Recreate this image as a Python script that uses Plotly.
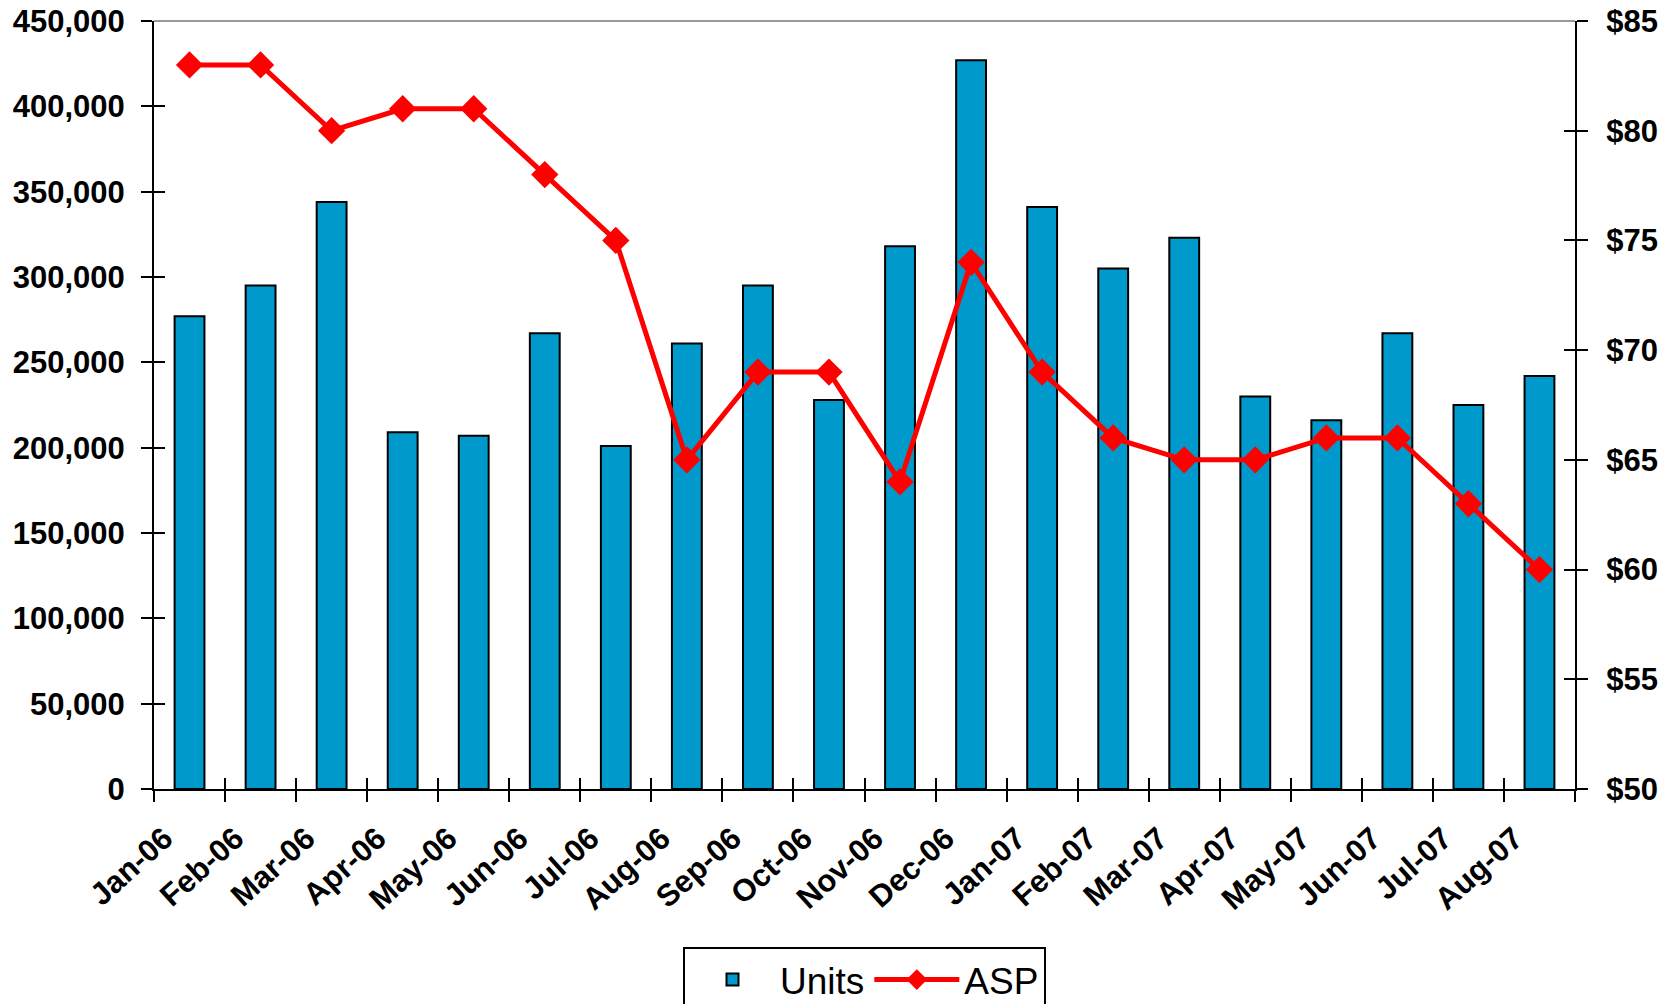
import plotly.graph_objects as go

months = ["Jan-06", "Feb-06", "Mar-06", "Apr-06", "May-06", "Jun-06", "Jul-06",
          "Aug-06", "Sep-06", "Oct-06", "Nov-06", "Dec-06", "Jan-07", "Feb-07",
          "Mar-07", "Apr-07", "May-07", "Jun-07", "Jul-07", "Aug-07"]
units = [277000, 295000, 344000, 209000, 207000, 267000, 201000, 261000, 295000, 228000,
         318000, 427000, 341000, 305000, 323000, 230000, 216000, 267000, 225000, 242000]
asp = [83, 83, 80, 81, 81, 78, 75, 65, 69, 69, 64, 74, 69, 66, 65, 65, 66, 66, 63, 60]

units_ticks = list(range(0, 450001, 50000))
units_ticktext = ["0" if v == 0 else f"{v:,}" for v in units_ticks]
asp_ticks = list(range(50, 86, 5))
asp_ticktext = [f"${v}" for v in asp_ticks]

FONT = "Liberation Sans, Arial, sans-serif"
tickfont = dict(family=FONT, size=31, color="black", weight="bold")
n = len(months)
xrange = [-0.5, n - 0.5]

fig = go.Figure()
fig.add_trace(go.Bar(
    x=months, y=units, name="Units",
    marker=dict(color="#0099CC", line=dict(color="black", width=2)),
    xaxis="x", yaxis="y",
))
fig.add_trace(go.Scatter(
    x=months, y=asp, name="ASP", mode="lines+markers",
    line=dict(color="#FF0000", width=5),
    marker=dict(symbol="diamond", size=21, color="#FF0000"),
    xaxis="x", yaxis="y2",
))
# invisible helper traces so the inner-tick overlay axes get drawn
fig.add_trace(go.Scatter(
    x=months, y=units, mode="markers", marker=dict(opacity=0),
    showlegend=False, hoverinfo="skip", xaxis="x2", yaxis="y3",
))
fig.add_trace(go.Scatter(
    x=months, y=asp, mode="markers", marker=dict(opacity=0),
    showlegend=False, hoverinfo="skip", xaxis="x", yaxis="y4",
))

common_tick = dict(ticklen=11, tickwidth=2, tickcolor="black", showgrid=False,
                   zeroline=False, automargin=False)

fig.update_layout(
    width=1667, height=1004,
    margin=dict(l=154, r=92, t=21, b=215, autoexpand=False),
    paper_bgcolor="white", plot_bgcolor="white",
    bargap=0.58,
    showlegend=True,
    legend=dict(
        orientation="h", x=0.5, xanchor="center", y=-0.2057, yanchor="top",
        bordercolor="black", borderwidth=2,
        font=dict(family=FONT, size=37, color="black"),
        itemwidth=85, tracegroupgap=0,
    ),
    xaxis=dict(
        type="category", range=xrange, tickson="boundaries", ticks="outside",
        tickangle=-42, showline=True, linecolor="black", linewidth=2,
        tickfont=tickfont, ticklabelstandoff=17, ticklabelshift=-25,
        ticklabeloverflow="allow", **common_tick,
    ),
    xaxis2=dict(
        type="category", range=xrange, tickson="boundaries", overlaying="x",
        anchor="y", side="bottom", ticks="inside", showticklabels=False,
        showline=False, **common_tick,
    ),
    yaxis=dict(
        range=[0, 450000], tickvals=units_ticks, ticktext=units_ticktext,
        ticks="outside", showline=True, linecolor="black", linewidth=2,
        tickfont=tickfont, ticklabelstandoff=10, ticklabeloverflow="allow",
        **common_tick,
    ),
    yaxis2=dict(
        range=[50, 85], tickvals=asp_ticks, ticktext=asp_ticktext,
        overlaying="y", side="right", anchor="x",
        ticks="outside", showline=True, linecolor="black", linewidth=2,
        tickfont=tickfont, ticklabelstandoff=12, ticklabeloverflow="allow",
        **common_tick,
    ),
    yaxis3=dict(
        range=[0, 450000], tickvals=units_ticks, overlaying="y", side="left",
        anchor="x2", ticks="inside", showticklabels=False, showline=False,
        **common_tick,
    ),
    yaxis4=dict(
        range=[50, 85], tickvals=asp_ticks, overlaying="y", side="right",
        anchor="x", ticks="inside", showticklabels=False, showline=False,
        **common_tick,
    ),
    shapes=[dict(type="line", xref="paper", yref="paper", x0=0, x1=1, y0=1, y1=1,
                 line=dict(color="#999999", width=2))],
)

fig.write_html("out.html", config={"displayModeBar": False},
               post_script="document.body.style.margin='0';")
